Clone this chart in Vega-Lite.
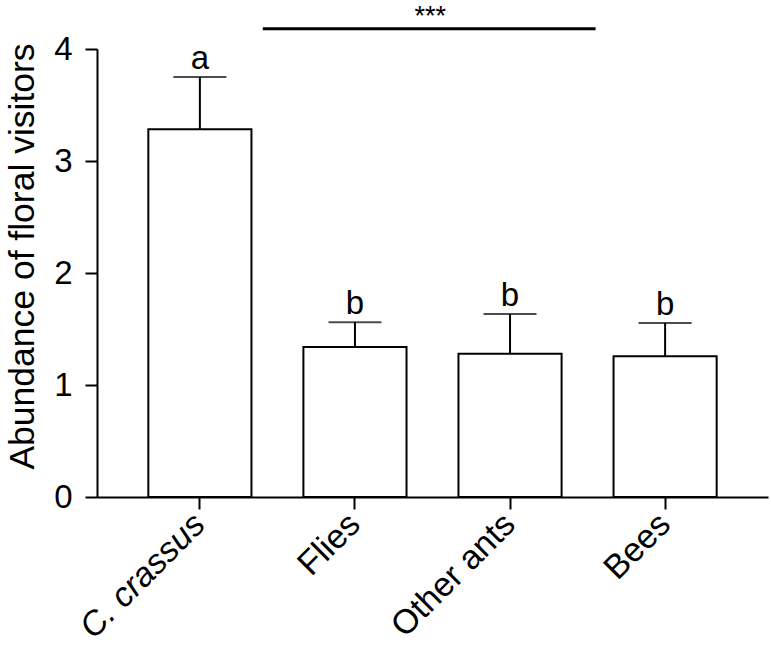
{
  "$schema": "https://vega.github.io/schema/vega-lite/v6.json",
  "width": 671,
  "height": 448,
  "autosize": {"type": "none"},
  "padding": {"left": 97, "top": 49, "right": 3, "bottom": 151},
  "background": "white",
  "config": {
    "view": {"stroke": null},
    "font": "Liberation Sans",
    "axis": {
      "domainColor": "black", "domainWidth": 2, "tickColor": "black", "tickWidth": 2,
      "tickSize": 12, "labelColor": "black", "labelFont": "Liberation Sans",
      "titleFont": "Liberation Sans", "titleColor": "black", "grid": false
    }
  },
  "datasets": {
    "bars": [
      {"group": "C. crassus", "mean": 3.283, "upper": 3.75, "letter": "a"},
      {"group": "Flies", "mean": 1.339, "upper": 1.56, "letter": "b"},
      {"group": "Other ants", "mean": 1.28, "upper": 1.634, "letter": "b"},
      {"group": "Bees", "mean": 1.256, "upper": 1.554, "letter": "b"}
    ],
    "sig": [
      {"from": "C. crassus", "to": "Other ants", "mid": "Flies", "y": 4.18, "label": "***"}
    ]
  },
  "layer": [
    {
      "data": {"name": "bars"},
      "mark": {"type": "bar", "fill": "white", "stroke": "black", "strokeWidth": 2},
      "encoding": {
        "x": {
          "field": "group", "type": "nominal",
          "scale": {"domain": ["C. crassus", "Flies", "Other ants", "Bees"], "paddingInner": 0.335, "paddingOuter": 0.331},
          "axis": {
            "title": null, "labelAngle": -45, "labelAlign": "right", "labelBaseline": "middle",
            "labelFontSize": 34, "labelPadding": 10,
            "labelFontStyle": {"condition": {"test": "datum.value === 'C. crassus'", "value": "italic"}, "value": "normal"}
          }
        },
        "y": {
          "field": "mean", "type": "quantitative",
          "scale": {"domain": [0, 4], "nice": false},
          "axis": {
            "title": "Abundance of floral visitors", "values": [0, 1, 2, 3, 4], "format": "d",
            "labelFontSize": 33, "labelPadding": 13, "titleFontSize": 35.5, "titleFontWeight": "normal",
            "titleAngle": -90, "titleX": -64, "titleY": 207, "titleAlign": "center", "titleBaseline": "alphabetic"
          }
        }
      }
    },
    {
      "data": {"name": "bars"},
      "mark": {"type": "rule", "color": "black", "strokeWidth": 2},
      "encoding": {
        "x": {"field": "group", "type": "nominal"},
        "y": {"field": "mean", "type": "quantitative"},
        "y2": {"field": "upper"}
      }
    },
    {
      "data": {"name": "bars"},
      "mark": {"type": "tick", "color": "black", "thickness": 2, "size": 53, "orient": "horizontal"},
      "encoding": {
        "x": {"field": "group", "type": "nominal"},
        "y": {"field": "upper", "type": "quantitative"}
      }
    },
    {
      "data": {"name": "bars"},
      "mark": {"type": "text", "fontSize": 33, "baseline": "alphabetic", "dy": -8, "color": "black"},
      "encoding": {
        "x": {"field": "group", "type": "nominal"},
        "y": {"field": "upper", "type": "quantitative"},
        "text": {"field": "letter"}
      }
    },
    {
      "data": {"name": "sig"},
      "mark": {"type": "rule", "color": "black", "strokeWidth": 3},
      "encoding": {
        "x": {"field": "from", "type": "nominal", "bandPosition": 1.11},
        "x2": {"field": "to", "bandPosition": 1.33},
        "y": {"field": "y", "type": "quantitative"}
      }
    },
    {
      "data": {"name": "sig"},
      "mark": {"type": "text", "fontSize": 27, "baseline": "alphabetic", "dy": -4, "color": "black"},
      "encoding": {
        "x": {"field": "mid", "type": "nominal", "bandPosition": 1.23},
        "y": {"field": "y", "type": "quantitative"},
        "text": {"field": "label"}
      }
    }
  ]
}
